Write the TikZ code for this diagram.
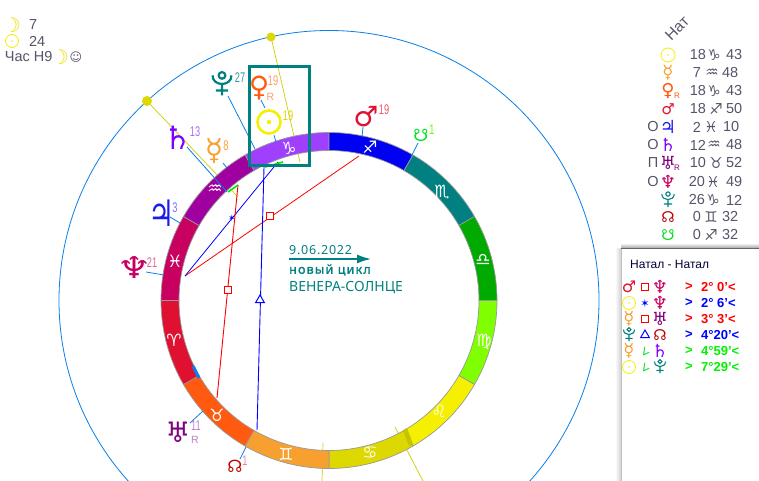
\documentclass[tikz,border=0pt]{standalone}
\usepackage{fontspec}
\setmainfont{Liberation Sans}
\newfontfamily\symf{DejaVu Sans}
\newfontfamily\notof{Noto Sans}
\newfontfamily\notods[LetterSpace=6]{Noto Sans}
\newfontfamily\notocy[LetterSpace=9.5,FakeBold=1.5]{Noto Sans}
\usetikzlibrary{arrows.meta,shapes.geometric}
\definecolor{tgray}{HTML}{55556A}
\definecolor{teal2}{HTML}{008080}
\definecolor{leader}{HTML}{0A7FE8}
\definecolor{csun}{HTML}{F5F000}
\definecolor{cmer}{HTML}{F7A030}
\definecolor{cven}{HTML}{FF5A10}
\definecolor{cmar}{HTML}{E01030}
\definecolor{cjup}{HTML}{1A1AF0}
\definecolor{csat}{HTML}{8000FF}
\definecolor{cura}{HTML}{800080}
\definecolor{cnep}{HTML}{C80060}
\definecolor{cplu}{HTML}{008080}
\definecolor{cnn}{HTML}{C00000}
\definecolor{csn}{HTML}{00E020}
\definecolor{ccap}{HTML}{A040FF}
\definecolor{caqu}{HTML}{A000A0}
\definecolor{cvir}{HTML}{80FF00}
\definecolor{clib}{HTML}{00AA00}
\definecolor{ccan}{HTML}{DCD800}
\tikzset{
  txt/.style={inner sep=0pt,outer sep=0pt,text=tgray,font=\fontsize{14.5}{14.5}\selectfont},
  gl/.style={inner sep=0pt,outer sep=0pt,font=\symf\fontsize{#1}{#1}\selectfont},
  big/.style={inner sep=0pt,outer sep=0pt,font=\symf\bfseries\fontsize{#1}{#1}\selectfont},
  lead/.style={leader,line width=.8pt},
  zsign/.style={inner sep=0pt,text=white,font=\symf\bfseries\fontsize{17}{17}\selectfont},
  num/.style={inner sep=0pt,font=\fontsize{14}{14}\selectfont},
  rmark/.style={inner sep=0pt,font=\fontsize{10.5}{10.5}\selectfont},
  pop/.style={inner sep=0pt,font=\bfseries\fontsize{13}{13}\selectfont},
  sq/.style={draw=red,line width=1.2pt,minimum size=7pt,inner sep=0pt},
  tri/.style={regular polygon,regular polygon sides=3,draw=blue,line width=1pt,minimum size=10pt,inner sep=0pt}
}
\newcommand\plutoat[5]{% x y scale lw colour
  \draw[#5,line width=#4,shift={(#1,#2)},scale=#3]
    (-10,-8) .. controls (-10,4) and (10,4) .. (10,-8)
    (0,0) -- (0,13) (-6.5,8) -- (6.5,8)
    (0,-8) circle[radius=3.5];}
\newcommand\sunat[6]{% name x y diameter lw dotdiam
  \node[circle,draw=csun,line width=#5,minimum size=#4,inner sep=0pt] (#1) at (#2,#3) {};
  \fill[csun] (#1.center) circle[radius=#6];}
\newcommand\seg[3]{% from to colour
  \filldraw[fill=#3,draw=black!40,line width=.7pt]
    (#1:168pt) arc[start angle=#1,end angle=#2,radius=168pt]
    -- (#2:150pt) arc[start angle=#2,end angle=#1,radius=150pt] -- cycle;}
\newcommand\trow[9]{% y colour glyph degRx deg sign signx minx min
  \node[gl=18,text=#2] (g#1) at (668,#1) {#3};
  \node[txt,anchor=east] (d#1) at (#4,#1) {#5};
  \node[gl=15,text=tgray] (s#1) at (#7,#1) {#6};
  \node[txt,anchor=west] (m#1) at (#8,#1) {#9};}
\newcommand\prow[3]{% y colour value
  \node[pop,text=#2] (pd#1) at (689,#1) {>};
  \node[pop,text=#2,anchor=west] (pe#1) at (701,#1) {#3};}
\newcommand\nrw[1]{\scalebox{.66}[1]{#1}}
\newcommand\smg[1]{{\fontsize{15}{15}\selectfont #1}}
\begin{document}
\begin{tikzpicture}[x=1pt,y=-1pt]
\useasboundingbox (0,0) rectangle (759,481);
\clip (0,0) rectangle (759,481);
\fill[white] (0,0) rectangle (759,481);
% outer circle
\node[circle,draw=leader,line width=.8pt,minimum size=540pt,inner sep=0pt] (outer) at (329,300.5) {};
% long yellow lines
\coordinate (ya) at (147,101);
\coordinate (yb) at (271,37);
\draw[csun!85!black,line width=.7pt] (ya) -- (238,197);
\draw[csun!85!black,line width=.7pt] (yb) -- (300,162);
\draw[csun!85!black,line width=.7pt] (395,427) -- (423,481);
\draw[csun!85!black,line width=.7pt] (323,443) -- (322,481);
\node[circle,fill=csun!90!black,minimum size=10pt,inner sep=0pt] (yda) at (ya) {};
\node[circle,fill=csun!90!black,minimum size=9pt,inner sep=0pt] (ydb) at (yb) {};
% ring
\begin{scope}[shift={(329,300.5)},x=1pt,y=1pt]
\seg{90}{120}{ccap}
\seg{60}{90}{blue!95!black}
\seg{30}{60}{teal2}
\seg{0}{30}{clib}
\seg{-30}{0}{cvir}
\seg{-60}{-30}{csun}
\seg{-90}{-60}{ccan}
\seg{-120}{-90}{cmer}
\seg{-150}{-120}{cven}
\seg{-180}{-150}{cmar}
\seg{150}{180}{cnep}
\seg{120}{150}{caqu}
\end{scope}
\fill[ccan!90!black] (403,430) -- (407,428) -- (413,444) -- (409,446) -- cycle;
% blue mark on ring
\draw[leader,line width=3pt] (193,366) -- (199,378);
% zodiac glyphs
\node[zsign] (zcap) at (289,148) {♑};
\node[zsign] (zsag) at (370,147) {♐};
\node[zsign] (zsco) at (442,192) {♏};
\node[zsign] (zlib) at (483,260) {♎};
\node[zsign] (zvir) at (484,342) {♍};
\node[zsign] (zleo) at (439,411) {♌};
\node[zsign] (zcan) at (370,453) {♋};
\node[zsign] (zgem) at (286,454) {♊};
\node[zsign] (ztau) at (217,415) {♉};
\node[zsign] (zari) at (174,340) {♈};
\node[zsign] (zpis) at (175,261) {♓};
\node[zsign] (zaqu) at (215,190) {♒};
% leaders
\draw[lead] (228,96) -- (255,149);
\draw[lead] (261,100) -- (265,108) (274,135) -- (276,142);
\draw[lead] (187,147) -- (227,192);
\draw[lead] (223,163) -- (227,168);
\draw[lead] (170,217) -- (180,223);
\draw[lead] (146,272) -- (164,275);
\draw[lead] (190,423) -- (203,411);
\draw[lead] (240,459) -- (246,447);
\draw[lead] (362,137) -- (363,127);
\draw[lead] (411,157) -- (418,143);
% aspects
\coordinate (nep) at (185,276);
\coordinate (mar) at (359,156);
\coordinate (sun) at (278,162);
\coordinate (mer) at (238,185);
\coordinate (ura) at (217,398);
\coordinate (plu) at (264,167);
\coordinate (nn) at (257,430);
\draw[red,line width=.8pt] (nep) -- (mar);
\draw[blue,line width=.8pt] (nep) -- (sun);
\draw[red,line width=.9pt] (mer) -- (ura);
\draw[blue,line width=.9pt] (plu) -- (nn);
\draw[green!90!black,line width=1.6pt] (228,192) -- (238,185) (265,167) -- (283,162);
\node[sq,fill=white] (q1) at (270,216) {};
\node[sq,fill=white] (q2) at (228,290) {};
\node[tri,fill=white] (q3) at (260,300) {};
\node[gl=9,text=blue] (q4) at (232,218) {✶};
% chart planets
\plutoat{222}{83}{.95}{2.2pt}{cplu}
\node[num,text=cplu!80] (plut) at (240,78) {\nrw{27}};
\node[big=28,text=cven] (ven) at (259,88) {♀};
\node[num,text=cven!60] (vent) at (273,81) {\nrw{19}};
\node[rmark,text=cven!60] (venr) at (270.5,97) {R};
\sunat{sn}{269}{122}{23pt}{2.6pt}{2.2pt}
\node[num,text=csun!90!black] (snt) at (288,116) {\nrw{19}};
\node[big=32,text=csat] (sat) at (178,138) {♄};
\node[num,text=csat!60] (satt) at (195,132) {\nrw{13}};
\node[big=30,text=cmer] (mrc) at (214,151) {☿};
\node[num,text=cmer] (mrct) at (226,146) {\nrw{8}};
\node[big=28,text=cjup] (jup) at (162,213) {\scalebox{1.05}[1.3]{♃}};
\node[num,text=cjup!60] (jupt) at (175,208) {\nrw{3}};
\node[big=30,text=cnep] (nepg) at (134,268) {\scalebox{1.3}[1]{♆}};
\node[num,text=cnep!60] (nept) at (152,263) {\nrw{21}};
\node[big=28,text=cmar] (mrs) at (366,117) {♂};
\node[num,text=cmar!70] (mrst) at (384,110) {\nrw{19}};
\node[gl=17,text=csn] (snd) at (421,135) {☋};
\node[num,text=green!60!yellow] (sndt) at (432,130) {\nrw{1}};
\node[big=28,text=cura] (urag) at (178,432) {♅};
\node[num,text=cura!50] (urat) at (196,426) {\nrw{11}};
\node[rmark,text=cura!50] (urar) at (195,440) {R};
\node[gl=17,text=cnn] (ndd) at (235,466) {☊};
\node[num,text=cnep!50] (nddt) at (245,461) {\nrw{1}};
% box
\node[draw=teal2,line width=3pt,minimum width=60pt,minimum height=98pt,inner sep=0pt] (frame) at (279,116) {};
% centre text
\node[anchor=west,inner sep=0pt,text=teal2,font=\notods\fontsize{12.5}{12.5}\selectfont] (date) at (289,250) {9.06.2022};
\coordinate (ar1) at (289,259);
\coordinate (ar2) at (371,259);
\draw[teal2,line width=1.5pt,-{Latex[length=14pt,width=9pt]}] (ar1) -- (ar2);
\node[anchor=west,inner sep=0pt,text=teal2,font=\notocy\fontsize{12.5}{12.5}\selectfont] (cyc) at (289,270) {новый цикл};
\node[anchor=west,inner sep=0pt,text=teal2,font=\notof\fontsize{14}{14}\selectfont] (vs) at (289,288) {ВЕНЕРА-СОЛНЦЕ};
% top left
\node[gl=20,text=csun!95!black] (lm) at (12,25) {☽};
\node[txt,anchor=west] (l7) at (29,25) {7};
\sunat{ls}{12}{41}{13pt}{.8pt}{.9pt}
\node[txt,anchor=west] (l24) at (29,41) {24};
\node[txt,anchor=west] (lh) at (5,57) {Час Н9};
\node[gl=20,text=csun!95!black] (lm2) at (60,57) {☽};
\node[gl=12,text=tgray] (lf) at (76,57) {☺};
% right table
\node[txt,rotate=45,font=\fontsize{15.5}{15.5}\selectfont] (nat) at (677,28) {Нат};
\sunat{gs}{668}{55}{14pt}{.8pt}{.9pt}
\node[txt,anchor=east] (d55) at (706,55) {18};
\node[gl=15,text=tgray] (s55) at (714,55) {♑};
\node[txt,anchor=west] (m55) at (726,55) {43};
\trow{73}{cmer}{☿}{701}{7}{♒}{712}{722}{48}
\trow{91}{cven}{♀}{706}{18}{♑}{714}{726}{43}
\trow{109}{cmar}{\smg{♂}}{706}{18}{♐}{716}{726}{50}
\trow{127}{cjup}{♃}{701}{2}{♓}{711}{723}{10}
\trow{145}{csat}{♄}{706}{12}{♒}{714}{726}{48}
\trow{163}{cura}{♅}{706}{10}{♉}{716}{726}{52}
\trow{182}{cnep}{♆}{705}{20}{♓}{713}{726}{49}
\plutoat{668}{199}{.62}{1.1pt}{cplu}
\node[txt,anchor=east] (d200) at (705,200) {26};
\node[gl=15,text=tgray] (s200) at (713,200) {♑};
\node[txt,anchor=west] (m200) at (726,200) {12};
\trow{217}{cnn}{\smg{☊}}{701}{0}{♊}{711}{722}{32}
\trow{235}{csn}{\smg{☋}}{701}{0}{♐}{711}{722}{32}
\node[inner sep=0pt,font=\fontsize{8}{8}\selectfont,text=cven] (r1) at (677,96) {R};
\node[inner sep=0pt,font=\fontsize{8}{8}\selectfont,text=cura] (r2) at (677,168) {R};
\node[txt] (o1) at (653,127) {О};
\node[txt] (o2) at (653,145) {О};
\node[txt] (o3) at (653,163) {П};
\node[txt] (o4) at (653,182) {О};
% popup
\shade[top color=white,bottom color=black!35] (621,243) rectangle (759,248);
\shade[left color=white,right color=black!18] (615,248) rectangle (621,481);
\fill[white] (621,248) rectangle (759,481);
\draw[black!25,line width=.7pt] (621,248) -- (621,481);
\draw[black!60,line width=.8pt] (621,248) -- (759,248);
\node[anchor=west,inner sep=0pt,text=blue!20!black,font=\fontsize{12}{12}\selectfont] (ptitle) at (630,264) {Натал - Натал};
% popup rows
\node[gl=16,text=cmar] (a1) at (629,287) {♂};
\node[sq] (b1) at (645,287) {};
\node[gl=18,text=cnep] (c1) at (660,287) {♆};
\prow{287}{red}{2° 0'<}
\sunat{a2}{629}{303}{13pt}{.8pt}{.9pt}
\node[gl=11,text=blue] (b2) at (645,303) {✶};
\node[gl=18,text=cnep] (c2) at (660,303) {♆};
\prow{303}{blue}{2° 6'<}
\node[gl=18,text=cmer] (a3) at (629,319) {☿};
\node[sq] (b3) at (645,319) {};
\node[gl=18,text=cura] (c3) at (660,319) {♅};
\prow{319}{red}{3° 3'<}
\plutoat{629}{334}{.55}{1.1pt}{cplu}
\node[tri] (b4) at (645,335) {};
\node[gl=15,text=cnn] (c4) at (660,335) {☊};
\prow{335}{blue}{4°20'<}
\node[gl=18,text=cmer] (a5) at (629,351) {☿};
\node[gl=10,text=csn,rotate=25] (b5) at (645,351) {∠};
\node[gl=18,text=csat] (c5) at (660,351) {♄};
\prow{351}{green!95!black}{4°59'<}
\sunat{a6}{629}{367}{13pt}{.8pt}{.9pt}
\node[gl=10,text=csn,rotate=25] (b6) at (645,367) {∠};
\plutoat{660}{366}{.55}{1.1pt}{cplu}
\prow{367}{green!95!black}{7°29'<}
\end{tikzpicture}
\end{document}
